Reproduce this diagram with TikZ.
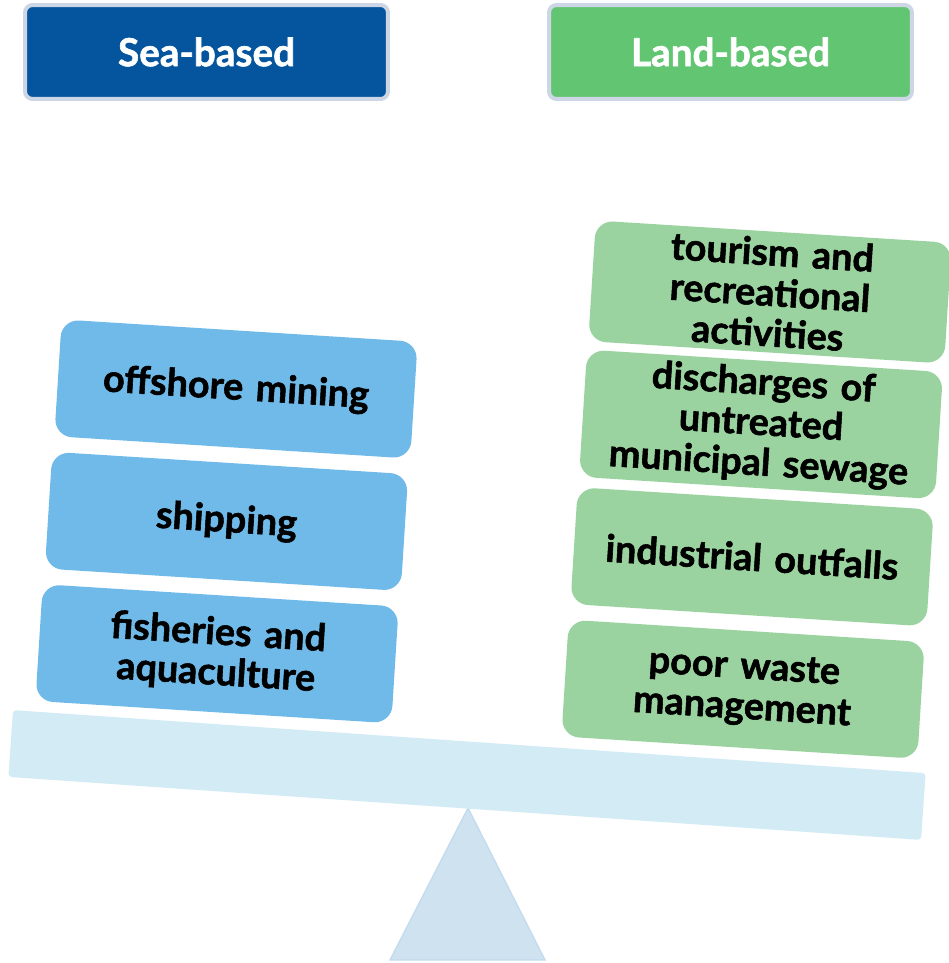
\documentclass[tikz,border=0pt]{standalone}
\usepackage{fontspec}
\setmainfont{Lato}[BoldFeatures={FakeBold=1.5}]
\usetikzlibrary{positioning}
\definecolor{seablue}{HTML}{04559E}
\definecolor{landgreen}{HTML}{62C572}
\definecolor{headrim}{HTML}{CCD6E4}
\definecolor{seabox}{HTML}{6FBAE8}
\definecolor{landbox}{HTML}{9AD3A0}
\definecolor{beamfill}{HTML}{D3EBF5}
\definecolor{pivotfill}{HTML}{CFE2F0}
\definecolor{pivotedge}{HTML}{C4DBEE}

\begin{document}
\begin{tikzpicture}[x=0.02cm, y=-0.02cm, node distance=2.66cm, on grid,
	header/.style={draw=headrim, line width=0.08cm, rounded corners=0.15cm, minimum width=7.26cm, minimum height=1.88cm, text=white, font=\fontsize{22}{26}\selectfont\bfseries},
	source/.style={rounded corners=0.35cm, minimum width=7.06cm, minimum height=2.34cm, rotate=-3.6, align=center, text width=6.9cm, font=\fontsize{21.5}{23}\selectfont\bfseries},
	beam/.style={fill=beamfill, rounded corners=2pt, minimum width=18.3cm, minimum height=1.34cm, inner sep=0pt, rotate=-3.95}]
		\useasboundingbox (0,0) rectangle (948,963);

		% seesaw
		\fill[pivotfill, draw=pivotedge, line width=0.8pt] (468,808) -- (545,960) -- (390,960) -- cycle;
		\node[beam] (beam) at (467,775) {};

		% headers
		\node[header, fill=seablue] (sea) at (206.5,52) {Sea-based};
		\node[header, fill=landgreen] (land) at (730.5,52) {Land-based};

		% sea-based
		\node[source, fill=seabox] (mining) at (236,389) {offshore mining};
		\node[source, fill=seabox] (shipping) [below=of mining, xshift=-0.19cm] {shipping};
		\node[source, fill=seabox] (fisheries) [below=of shipping, xshift=-0.19cm] {fisheries and\\aquaculture};

		% land-based
		\node[source, fill=landbox] (tourism) at (770,292) {tourism and\\recreational\\activities};
		\node[source, fill=landbox] (sewage) [below=of tourism, xshift=-0.18cm] {discharges of\\untreated\\municipal sewage};
		\node[source, fill=landbox] (outfalls) [below=of sewage, xshift=-0.18cm] {industrial outfalls};
		\node[source, fill=landbox] (waste) [below=of outfalls, xshift=-0.18cm] {poor waste\\management};
	\end{tikzpicture}
\end{document}
